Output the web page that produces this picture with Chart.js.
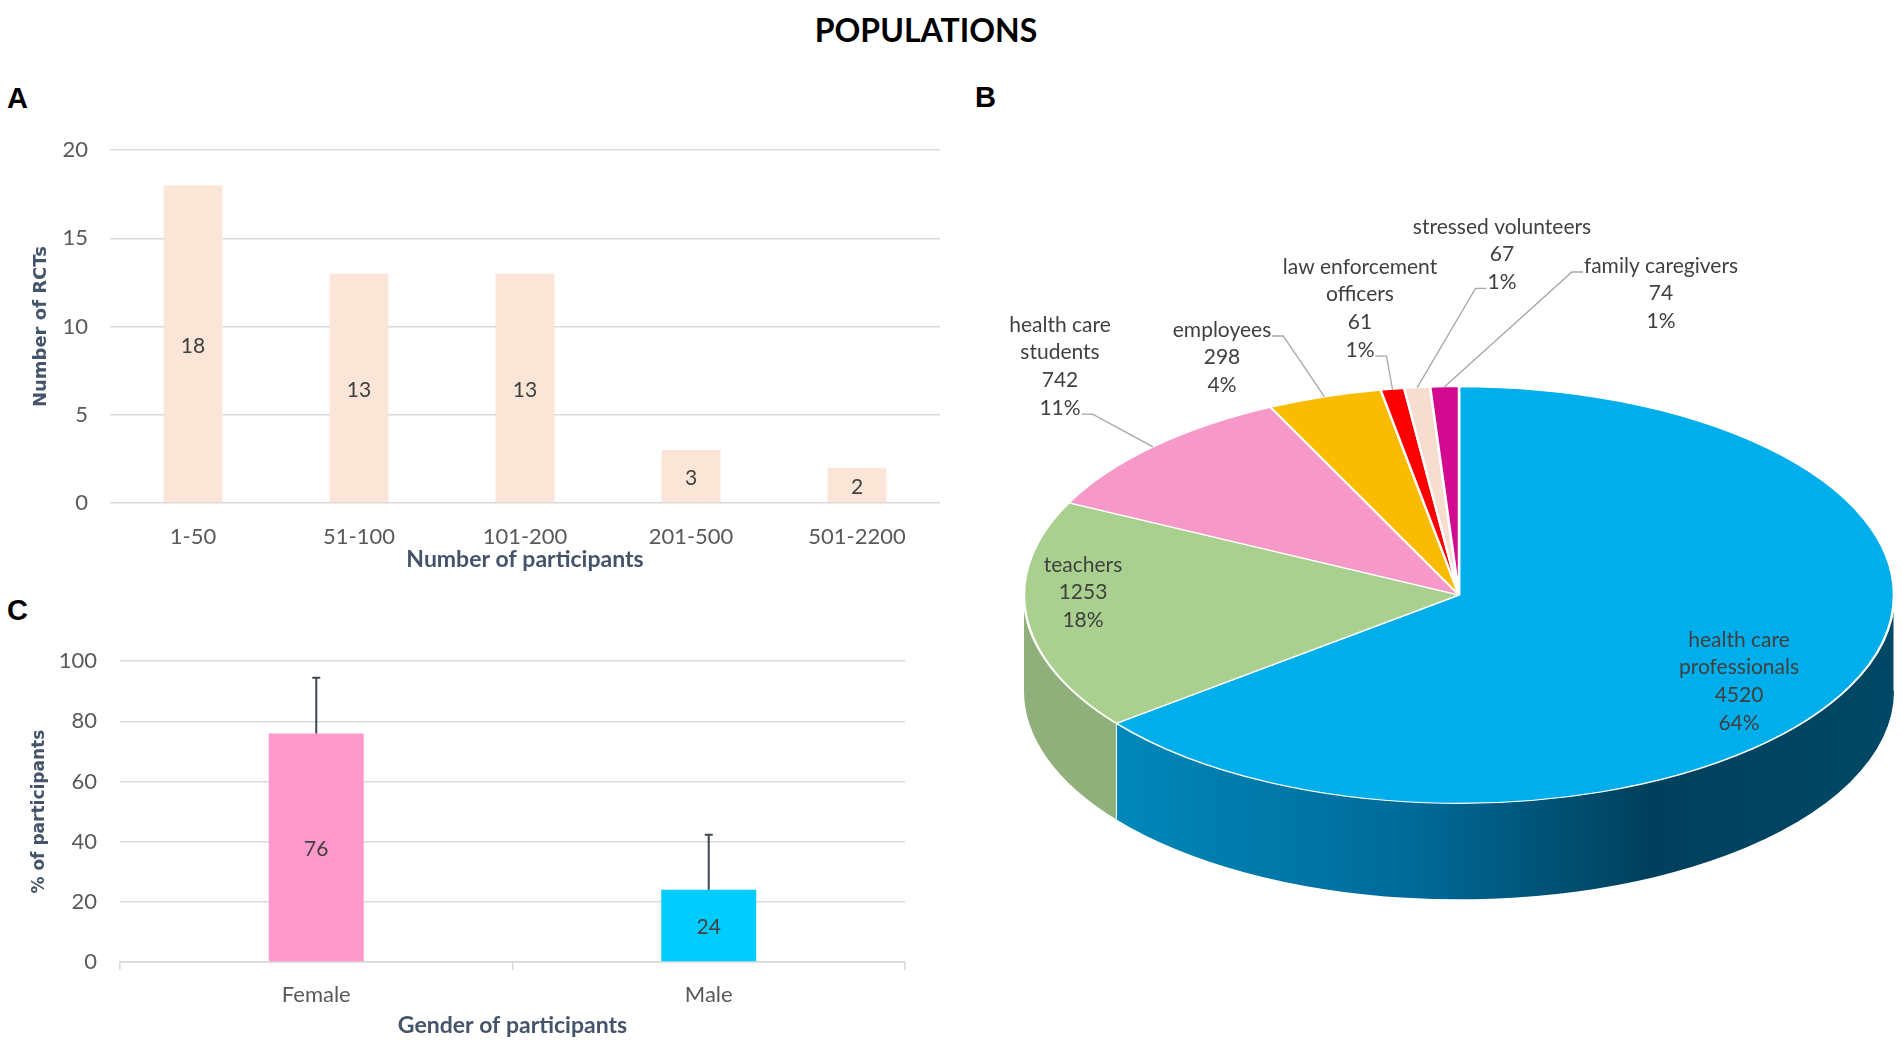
<!DOCTYPE html>
<html>
<head>
<meta charset="utf-8">
<script src="https://cdn.jsdelivr.net/npm/chart.js@4"></script>
<style>
  html,body{margin:0;padding:0;background:#fff;}
  body{width:1902px;height:1044px;position:relative;overflow:hidden;font-family:Lato,"Liberation Sans",sans-serif;}
  .box{position:absolute;}
  .panel{position:absolute;font-family:"Liberation Sans",Arial,sans-serif;font-weight:bold;font-size:29px;line-height:29px;color:#000;}
  #title{position:absolute;left:0;width:1852px;top:14px;text-align:center;font-family:Lato,sans-serif;font-weight:bold;font-size:32px;line-height:32px;color:#000;}
</style>
</head>
<body>
<div id="title">POPULATIONS</div>
<div class="panel" style="left:7px;top:84px;">A</div>
<div class="panel" style="left:975px;top:83px;">B</div>
<div class="panel" style="left:7px;top:596px;">C</div>

<div class="box" style="left:0;top:115px;width:960px;height:462px;"><canvas id="cA" width="960" height="462"></canvas></div>
<div class="box" style="left:0;top:625px;width:930px;height:419px;"><canvas id="cC" width="930" height="419"></canvas></div>
<div class="box" style="left:960px;top:120px;width:942px;height:924px;"><canvas id="cB" width="942" height="924"></canvas></div>

<script>
// ---------- DATA ----------
const sizeCategories = ['1-50', '51-100', '101-200', '201-500', '501-2200'];
const rctCounts = [18, 13, 13, 3, 2];
const rctTicks = [0, 5, 10, 15, 20];

const genderCategories = ['Female', 'Male'];
const genderPercent = [76, 24];
const genderSD = [18.5, 18.3];
const genderTicks = [0, 20, 40, 60, 80, 100];

const popCategories = [
  ['health care', 'professionals'],
  ['teachers'],
  ['health care', 'students'],
  ['employees'],
  ['law enforcement', 'officers'],
  ['stressed volunteers'],
  ['family caregivers']
];
const popCounts = [4520, 1253, 742, 298, 61, 67, 74];

// ---------- STYLE / LAYOUT ----------
const TICK_COLOR = '#595959';
const TITLE_COLOR = '#44546A';
const GRID_COLOR = '#D9D9D9';
const LABEL_COLOR = '#404040';
const popColors = ['#00AEEB', '#A9D08E', '#F799C8', '#F9BC00', '#FF0000', '#F6DDD0', '#D10A8F'];
const SQUASH = 0.479;      // vertical squash of the pie top
const DEPTH = 96;          // pie thickness in px
const PIE_LINE_H = 27.7;
// label anchor (first line centre) relative to pie centre, plus leader settings
const popLabelLayout = [
  {dx: 280, dy: 45, leader: null},
  {dx: -376, dy: -30, leader: null},
  {dx: -399, dy: -270, leader: {line: 3, side: 'right'}},
  {dx: -237, dy: -265, leader: {line: 0, side: 'right'}},
  {dx: -99, dy: -328, leader: {line: 3, side: 'right'}},
  {dx: 43, dy: -368, leader: {line: 2, side: 'left'}},
  {dx: 202, dy: -329, leader: {line: 0, side: 'left'}}
];

Chart.defaults.font.family = 'Lato, "Liberation Sans", sans-serif';
Chart.defaults.animation = false;
Chart.defaults.plugins.legend.display = false;
Chart.defaults.plugins.tooltip.enabled = false;

const barValueLabels = {
  id: 'barValueLabels',
  afterDatasetsDraw(chart) {
    const ctx = chart.ctx;
    ctx.save();
    ctx.font = '21px Lato, sans-serif';
    ctx.fillStyle = LABEL_COLOR;
    ctx.textAlign = 'center';
    ctx.textBaseline = 'middle';
    chart.data.datasets.forEach((ds, di) => {
      chart.getDatasetMeta(di).data.forEach((bar, i) => {
        ctx.fillText(String(ds.data[i]), bar.x, (bar.y + bar.base) / 2 + 2);
      });
    });
    ctx.restore();
  }
};

// ---------- CHART A ----------
new Chart(document.getElementById('cA'), {
  type: 'bar',
  data: {
    labels: sizeCategories,
    datasets: [{
      data: rctCounts,
      backgroundColor: '#FBE5D6',
      categoryPercentage: 1,
      barPercentage: 0.355
    }]
  },
  options: {
    responsive: false,
    devicePixelRatio: 1,
    layout: {padding: {top: 5, right: 20, left: 0, bottom: 0}},
    scales: {
      x: {
        grid: {display: false, drawTicks: false},
        border: {display: false},
        ticks: {color: TICK_COLOR, font: {size: 22}, padding: 21},
        title: {display: true, text: 'Number of participants', color: TITLE_COLOR,
                font: {size: 23, weight: 'bold'}, padding: {top: 0, bottom: 4}},
        afterFit(s) { s.height = 74; }
      },
      y: {
        min: 0, max: 20,
        afterBuildTicks(s) { s.ticks = rctTicks.map(v => ({value: v})); },
        grid: {color: GRID_COLOR, lineWidth: 1.5, drawTicks: false},
        border: {display: false},
        ticks: {color: TICK_COLOR, font: {size: 22}, padding: 22},
        title: {display: true, text: 'Number of RCTs', color: TITLE_COLOR,
                font: {family: '"DejaVu Sans", sans-serif', size: 18, weight: 'bold'}, padding: {top: 31, bottom: 0}},
        afterFit(s) { s.width = 110; }
      }
    }
  },
  plugins: [barValueLabels]
});

// ---------- CHART C ----------
const errorBars = {
  id: 'errorBars',
  afterDatasetsDraw(chart) {
    const ctx = chart.ctx;
    const y = chart.scales.y;
    ctx.save();
    ctx.strokeStyle = '#3F4653';
    ctx.lineWidth = 2;
    chart.getDatasetMeta(0).data.forEach((bar, i) => {
      const top = y.getPixelForValue(genderPercent[i] + genderSD[i]);
      ctx.beginPath();
      ctx.moveTo(bar.x, bar.y);
      ctx.lineTo(bar.x, top);
      ctx.moveTo(bar.x - 4, top);
      ctx.lineTo(bar.x + 4, top);
      ctx.stroke();
    });
    ctx.restore();
  }
};

new Chart(document.getElementById('cC'), {
  type: 'bar',
  data: {
    labels: genderCategories,
    datasets: [{
      data: genderPercent,
      backgroundColor: ['#FF99CC', '#00CCFF'],
      categoryPercentage: 1,
      barPercentage: 0.242
    }]
  },
  options: {
    responsive: false,
    devicePixelRatio: 1,
    layout: {padding: {top: 34, right: 25, left: 0, bottom: 0}},
    scales: {
      x: {
        grid: {display: true, drawOnChartArea: false, drawTicks: true, tickLength: 8, offset: true,
               color: GRID_COLOR, lineWidth: 1.5},
        border: {display: true, color: GRID_COLOR, width: 1.5},
        ticks: {color: TICK_COLOR, font: {size: 22}, padding: 12},
        title: {display: true, text: 'Gender of participants', color: TITLE_COLOR,
                font: {size: 23, weight: 'bold'}, padding: {top: 0, bottom: 5}},
        afterFit(s) { s.height = 82; }
      },
      y: {
        min: 0, max: 100,
        afterBuildTicks(s) { s.ticks = genderTicks.map(v => ({value: v})); },
        grid: {color: GRID_COLOR, lineWidth: 1.5, drawTicks: false},
        border: {display: false},
        ticks: {color: TICK_COLOR, font: {size: 22}, padding: 23},
        title: {display: true, text: '% of participants', color: TITLE_COLOR,
                font: {family: '"DejaVu Sans", sans-serif', size: 17, weight: 'bold'}, padding: {top: 29, bottom: 0}},
        afterFit(s) { s.width = 120; }
      }
    }
  },
  plugins: [errorBars, barValueLabels]
});

// ---------- CHART B (3D-look pie) ----------
const pie3d = {
  id: 'pie3d',
  beforeDatasetsDraw(chart) {
    const ctx = chart.ctx;
    const arcs = chart.getDatasetMeta(0).data;
    const cx = arcs[0].x, cy = arcs[0].y, r = arcs[0].outerRadius;
    const ry = r * SQUASH;
    // side walls (front half: angles 0..PI)
    arcs.forEach((arc, i) => {
      const a = Math.max(arc.startAngle, 0);
      const b = Math.min(arc.endAngle, Math.PI);
      if (b <= a) return;
      ctx.save();
      ctx.beginPath();
      ctx.ellipse(cx, cy, r, ry, 0, a, b, false);
      ctx.lineTo(cx + r * Math.cos(b), cy + ry * Math.sin(b) + DEPTH);
      ctx.ellipse(cx, cy + DEPTH, r, ry, 0, b, a, true);
      ctx.closePath();
      if (i === 0) {
        const g = ctx.createLinearGradient(cx - r, 0, cx + r, 0);
        g.addColorStop(0, '#0092C8');
        g.addColorStop(0.1, '#0088BB');
        g.addColorStop(0.45, '#006A98');
        g.addColorStop(0.72, '#00405C');
        g.addColorStop(1, '#004866');
        ctx.fillStyle = g;
      } else {
        ctx.fillStyle = '#8FB07A';
      }
      ctx.fill();
      ctx.strokeStyle = '#FFFFFF';
      ctx.lineWidth = 1;
      ctx.beginPath();
      ctx.moveTo(cx + r * Math.cos(a), cy + ry * Math.sin(a));
      ctx.lineTo(cx + r * Math.cos(a), cy + ry * Math.sin(a) + DEPTH);
      ctx.stroke();
      ctx.restore();
    });
    ctx.save();
    ctx.translate(cx, cy);
    ctx.scale(1, SQUASH);
    ctx.translate(-cx, -cy);
  },
  afterDatasetsDraw(chart) {
    chart.ctx.restore();
  },
  afterDraw(chart) {
    const ctx = chart.ctx;
    const meta = chart.getDatasetMeta(0);
    const arcs = meta.data;
    const cx = arcs[0].x, cy = arcs[0].y, r = arcs[0].outerRadius;
    const ry = r * SQUASH;
    const total = popCounts.reduce((s, v) => s + v, 0);
    ctx.save();
    ctx.font = '21px Lato, sans-serif';
    ctx.textAlign = 'center';
    ctx.textBaseline = 'middle';
    popCategories.forEach((name, i) => {
      const lay = popLabelLayout[i];
      const lines = [...name, String(popCounts[i]), Math.round(popCounts[i] / total * 100) + '%'];
      const x = cx + lay.dx;
      ctx.fillStyle = LABEL_COLOR;
      lines.forEach((t, k) => ctx.fillText(t, x, cy + lay.dy + k * PIE_LINE_H));
      if (lay.leader) {
        const ln = lines[lay.leader.line];
        const w = ctx.measureText(ln).width;
        const ty = cy + lay.dy + lay.leader.line * PIE_LINE_H + 6;
        const x0 = lay.leader.side === 'right' ? x + w / 2 + 1 : x - w / 2 - 1;
        const x1 = lay.leader.side === 'right' ? x0 + 11 : x0 - 11;
        const arc = arcs[i];
        const m = (arc.startAngle + arc.endAngle) / 2;
        const ex = cx + r * Math.cos(m), ey = cy + ry * Math.sin(m);
        ctx.strokeStyle = '#A6A6A6';
        ctx.lineWidth = 1.3;
        ctx.beginPath();
        ctx.moveTo(x0, ty);
        ctx.lineTo(x1, ty);
        ctx.lineTo(ex, ey);
        ctx.stroke();
      }
    });
    ctx.restore();
  }
};

new Chart(document.getElementById('cB'), {
  type: 'pie',
  data: {
    labels: popCategories,
    datasets: [{
      data: popCounts,
      backgroundColor: popColors,
      borderColor: '#FFFFFF',
      borderWidth: 2.5
    }]
  },
  options: {
    responsive: false,
    devicePixelRatio: 1,
    radius: 435,
    layout: {padding: {left: 64, right: 8, top: 40, bottom: 14}}
  },
  plugins: [pie3d]
});
</script>
</body>
</html>
